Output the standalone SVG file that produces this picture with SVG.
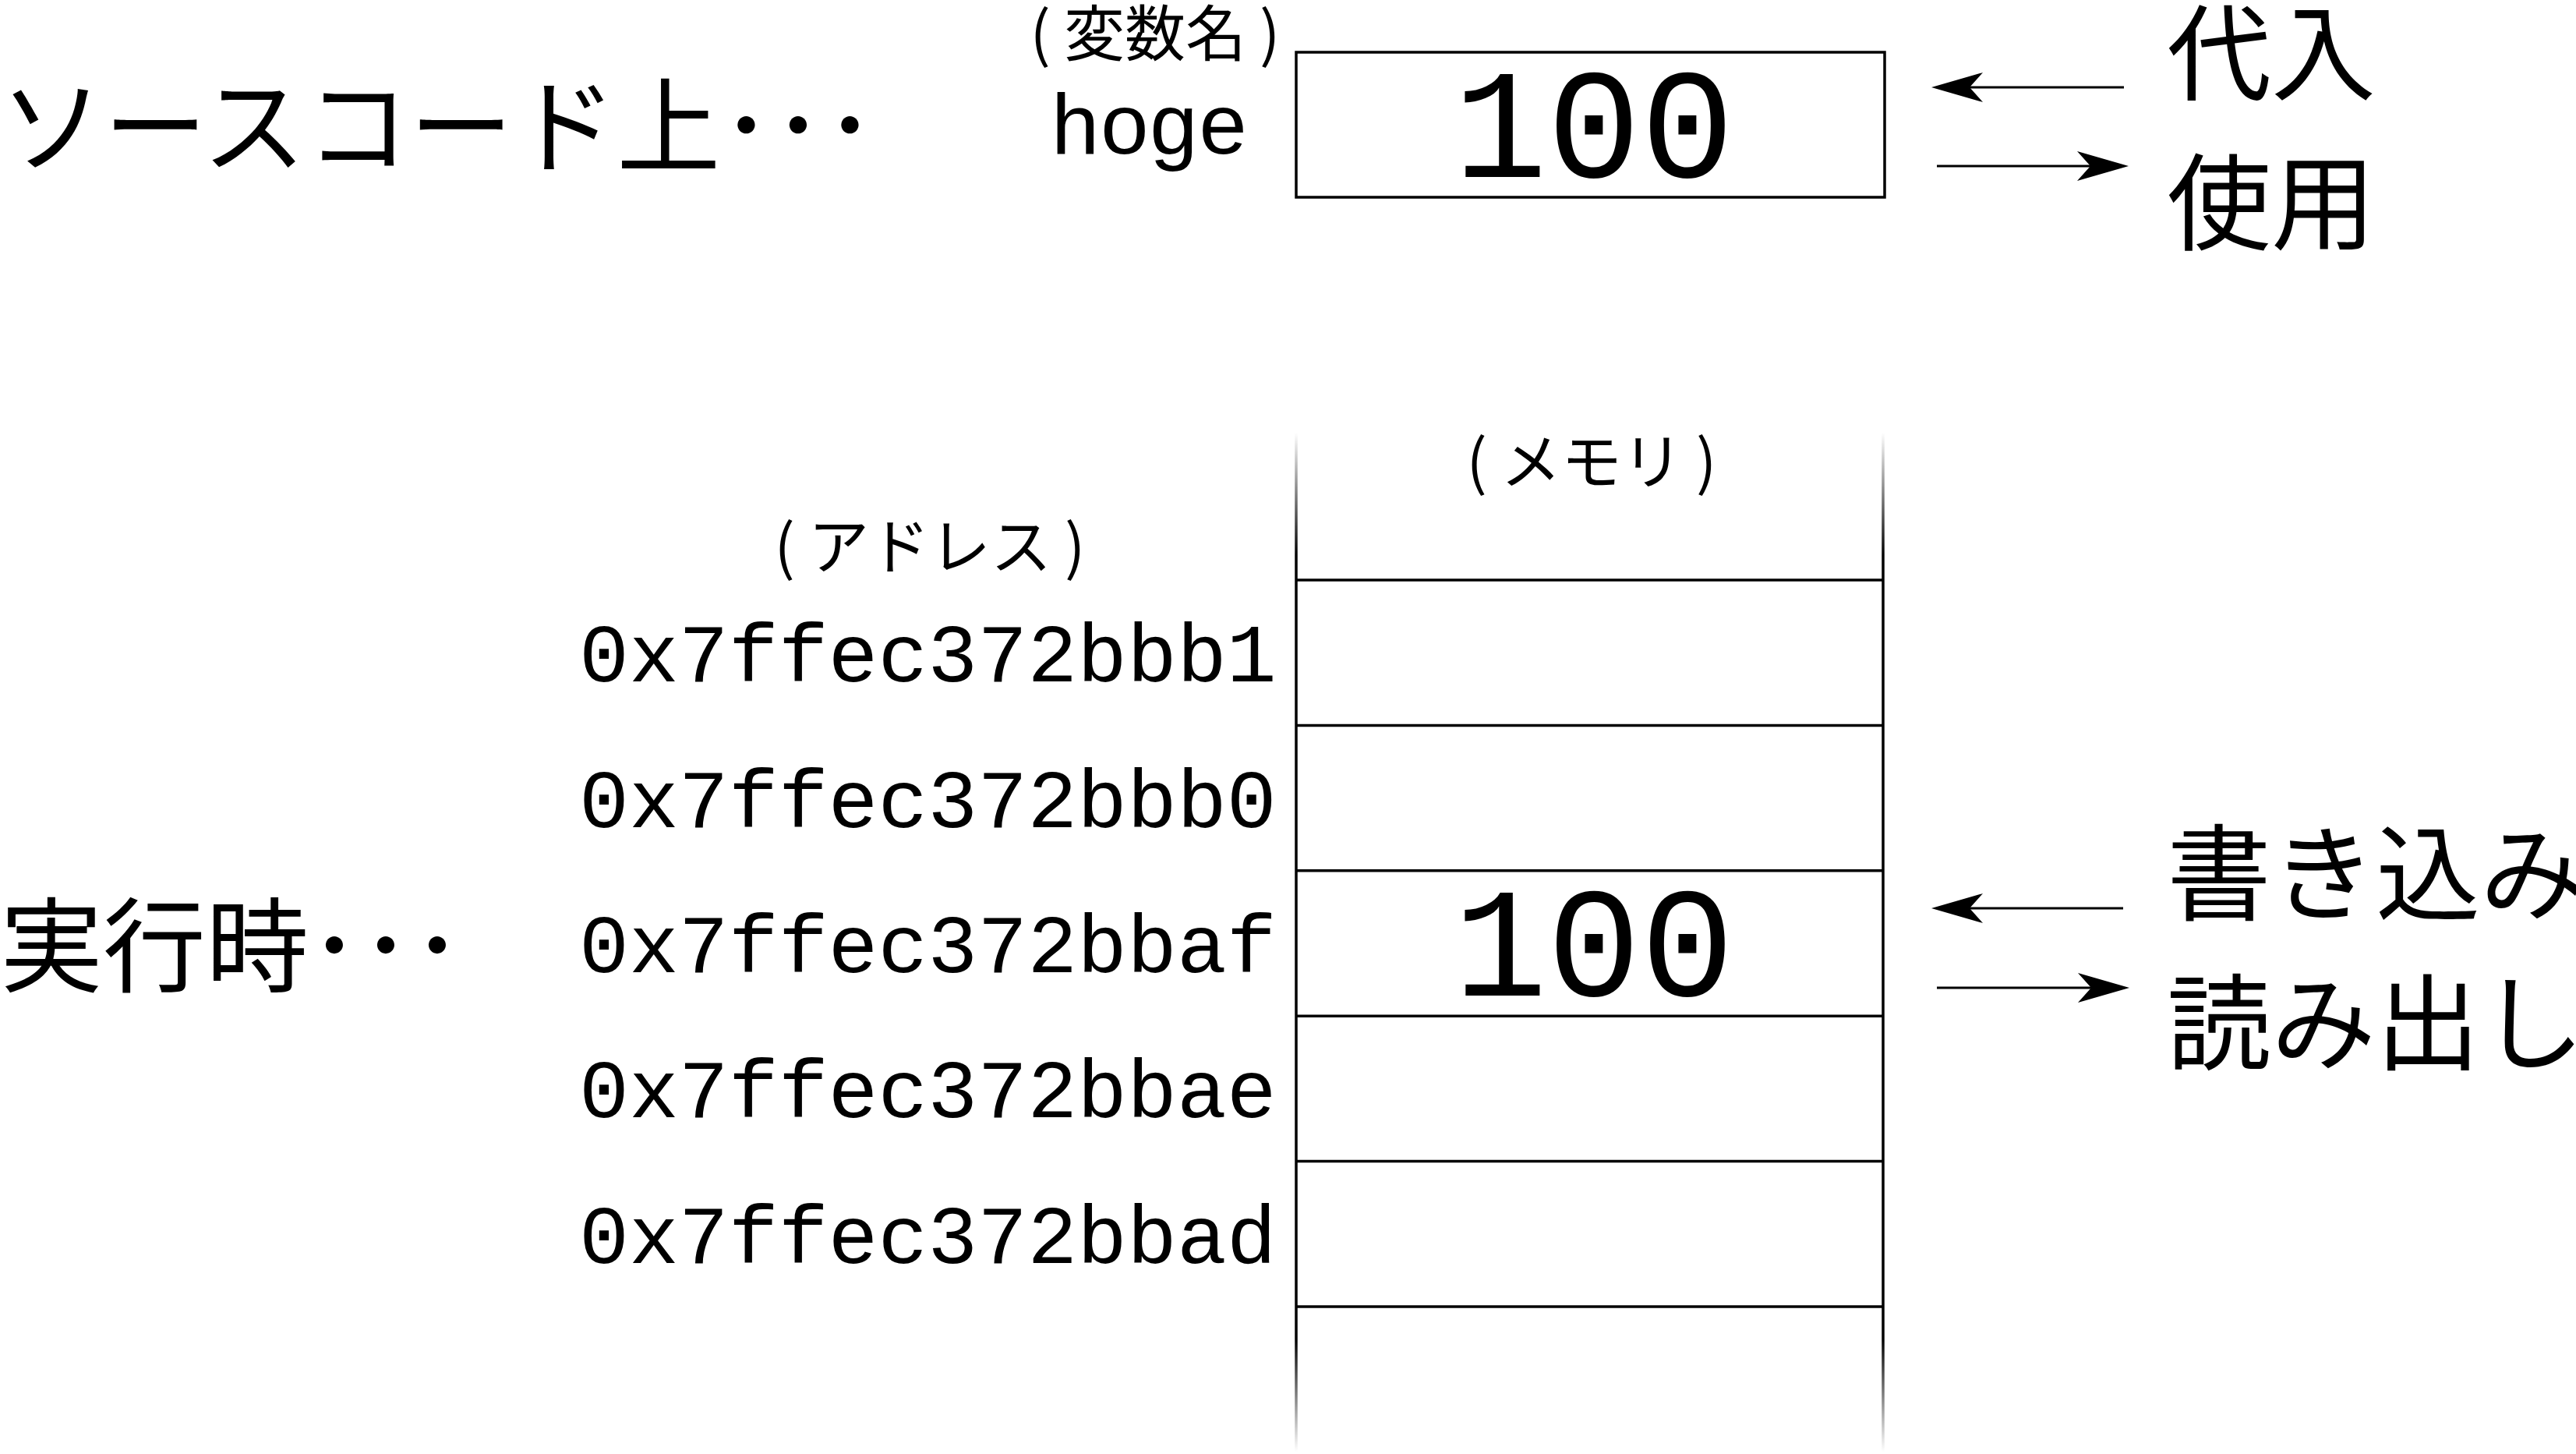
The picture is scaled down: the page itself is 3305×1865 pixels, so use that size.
<svg xmlns="http://www.w3.org/2000/svg" width="3305" height="1865" viewBox="0 0 3305 1865">
<style>
.jp{font-family:"Noto Sans CJK JP","Noto Sans CJK SC",sans-serif;fill:#000}
.mono{font-family:"Liberation Mono","DejaVu Sans Mono",monospace;fill:#000}
.sans{font-family:"Liberation Sans",Arial,sans-serif;fill:#000}
.ln{stroke:#000;stroke-width:3.5;fill:none}
.arr{stroke:#000;stroke-width:3;fill:none;marker-end:url(#ah)}
</style>
<defs>
<marker id="ah" viewBox="-68 -21 70 42" refX="-49" refY="0" markerWidth="70" markerHeight="42" markerUnits="userSpaceOnUse" orient="auto">
<path d="M0,0 L-66,-19 L-49,0 L-66,19 Z" fill="#000"/>
</marker>
<linearGradient id="fade" gradientUnits="userSpaceOnUse" x1="0" y1="555" x2="0" y2="1862">
<stop offset="0" stop-color="#000" stop-opacity="0"/>
<stop offset="0.12" stop-color="#000" stop-opacity="1"/>
<stop offset="0.89" stop-color="#000" stop-opacity="1"/>
<stop offset="1" stop-color="#000" stop-opacity="0"/>
</linearGradient>
</defs>
<rect width="3305" height="1865" fill="#fff"/>

<g id="label-source">
<text class="jp" x="0" y="211" font-size="133">ソースコード上･･･</text>
</g>
<g id="label-runtime">
<text class="jp" x="0" y="1262" font-size="132">実行時･･･</text>
</g>

<g id="variable">
<text class="jp" x="1482" y="72" font-size="78" text-anchor="middle">(<tspan dx="17">変数名</tspan><tspan dx="17">)</tspan></text>
<text class="sans" x="1349" y="197" font-size="110" letter-spacing="2">hoge</text>
<rect x="1663" y="67" width="755" height="186" class="ln" stroke-width="3"/>
<text class="mono" x="2045" y="227" font-size="200" text-anchor="middle">100</text>
</g>

<g id="memory">
<text class="jp" x="2042" y="621" font-size="78" text-anchor="middle">(<tspan dx="17">メモリ</tspan><tspan dx="17">)</tspan></text>
<line x1="1663" y1="555" x2="1663" y2="1862" stroke="url(#fade)" stroke-width="3.5"/>
<line x1="2416" y1="555" x2="2416" y2="1862" stroke="url(#fade)" stroke-width="3.5"/>
<line class="ln" x1="1663" y1="744" x2="2416" y2="744"/>
<line class="ln" x1="1663" y1="930.4" x2="2416" y2="930.4"/>
<line class="ln" x1="1663" y1="1116.8" x2="2416" y2="1116.8"/>
<line class="ln" x1="1663" y1="1303.2" x2="2416" y2="1303.2"/>
<line class="ln" x1="1663" y1="1489.6" x2="2416" y2="1489.6"/>
<line class="ln" x1="1663" y1="1676" x2="2416" y2="1676"/>
<text class="mono" x="2045" y="1277" font-size="200" text-anchor="middle">100</text>
</g>

<g id="addresses">
<text class="jp" x="1193" y="730" font-size="78" text-anchor="middle">(<tspan dx="17">アドレス</tspan><tspan dx="17">)</tspan></text>
<text class="mono" x="743" y="874.2" font-size="106.5">0x7ffec372bbb1</text>
<text class="mono" x="743" y="1060.6" font-size="106.5">0x7ffec372bbb0</text>
<text class="mono" x="743" y="1247" font-size="106.5">0x7ffec372bbaf</text>
<text class="mono" x="743" y="1433.4" font-size="106.5">0x7ffec372bbae</text>
<text class="mono" x="743" y="1619.8" font-size="106.5">0x7ffec372bbad</text>
</g>

<g id="ops">
<text class="jp" x="2780" y="118" font-size="134">代入</text>
<text class="jp" x="2780" y="310" font-size="134">使用</text>
<text class="jp" x="2780" y="1170" font-size="134">書き込み</text>
<text class="jp" x="2780" y="1362" font-size="134">読み出し</text>
</g>

<g id="connectors">
<line class="arr" x1="2725" y1="112" x2="2527" y2="112"/>
<line class="arr" x1="2485" y1="213" x2="2682" y2="213"/>
<line class="arr" x1="2724" y1="1165" x2="2527" y2="1165"/>
<line class="arr" x1="2485" y1="1267" x2="2683" y2="1267"/>
</g>
</svg>
